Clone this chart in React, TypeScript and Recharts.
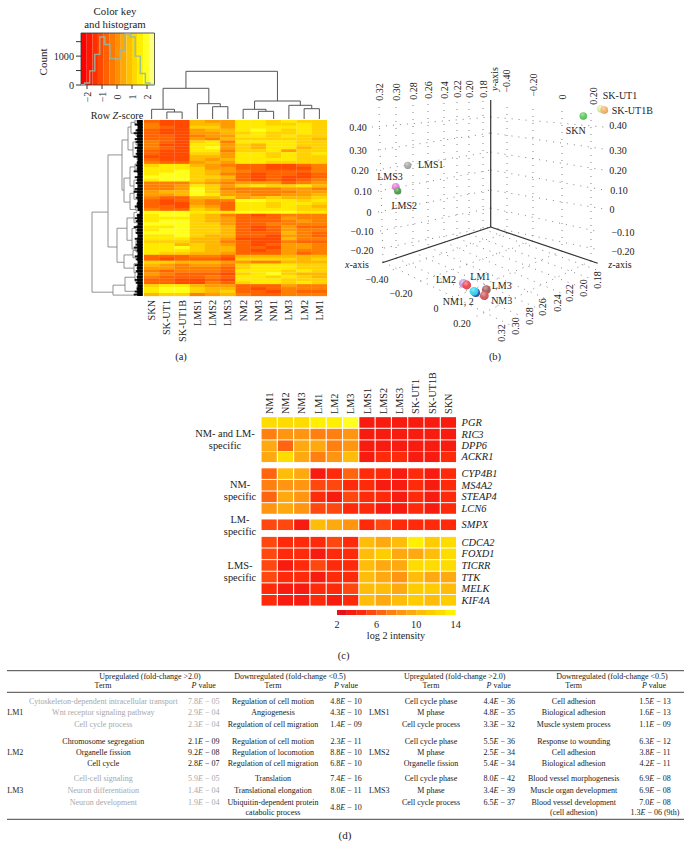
import { ComposedChart, ScatterChart, Scatter, Line, XAxis, YAxis, ReferenceArea, ReferenceLine } from 'recharts'

const SERIF = '"Liberation Serif", serif'

// (a) colour key histogram
const keyColors = ['#ff0000', '#ff1800', '#ff3000', '#ff4800', '#ff6000', '#ff7800', '#ff9000', '#ffa800', '#ffc000', '#ffd800', '#fff000', '#ffff20', '#ffff80']
const keyEdges = [-2.4, -2.02, -1.64, -1.27, -0.89, -0.51, -0.13, 0.25, 0.62, 1.0, 1.38, 1.76, 2.13, 2.5]
const histBins = [-2.4, -2.16, -1.82, -1.48, -1.15, -0.81, -0.47, -0.13, 0.2, 0.54, 0.88, 1.21, 1.55, 1.89, 2.2, 2.5]
const histCounts = [10, 70, 490, 1060, 1660, 1400, 920, 900, 1200, 1770, 1660, 1000, 400, 70, 20, 20]

// (a) heatmap, one digit per cell, 0 = deep orange-red ... 7 = pale yellow
const heatPalette = ['#ff4a00', '#ff6400', '#ff8000', '#ff9c00', '#ffb800', '#ffd200', '#ffea00', '#ffff18']
const heatColumns = ['SKN', 'SK-UT1', 'SK-UT1B', 'LMS1', 'LMS2', 'LMS3', 'NM2', 'NM3', 'NM1', 'LM3', 'LM2', 'LM1']
const heatRows = [
  '100433665655', '200443665565', '210553666665', '100344676565', '100334565565',
  '110233665655', '110324555554', '210562666655', '200663546655', '210673546645',
  '100662556355', '100553665656', '000443665655', '100434666655', '211343665555',
  '566432110012', '666533110002', '667543211112', '677542101101', '777554101001',
  '677543101012', '222432333123', '223653565564', '223752222332', '344753222233',
  '334763322334', '211445345445', '101322776656', '100321665665', '110431665654',
  '211541666655', '777666777766', '677542101222', '666543111322', '677543111232',
  '777553112222', '667554101311', '677554101322', '777554111421', '667544110321',
  '666443000422', '555442100211', '664543101332', '667544110332', '666544101322',
  '655443111312', '111221444444', '101110555545', '554443322444', '432332566655',
  '332221566655', '212221666565', '321110567544', '211121665654', '110010666555',
  '110021566565', '566433111322', '677544101222', '677545110211', '455234211222',
]

// dendrograms: [merge height, child a, child b, height of a, height of b]
const topBrackets = [
  [8, 1.5, 2.5, 1, 1], [10.7, 0.5, 2, 1, 8], [13.3, 4.5, 5.5, 1, 1], [16.3, 3.5, 5, 1, 13.3],
  [31.7, 1.25, 4.25, 10.7, 16.3], [8.7, 7.5, 8.5, 1, 1], [10.7, 6.5, 8, 1, 8.7], [11.3, 10.5, 11.5, 1, 1],
  [14.7, 9.5, 11, 1, 11.3], [19, 7.25, 10.25, 10.7, 14.7], [48.7, 2.75, 8.75, 31.7, 19],
]
const leftBrackets = [
  [52, 31.4, 58.7, 36, 31], [36, 11.9, 43.3, 22, 27], [22, 6.8, 23.9, 16, 20], [16, 2.4, 10.2, 13, 11],
  [20, 19.8, 28, 14, 14], [27, 36.9, 48.5, 17, 20], [17, 33.4, 41, 10, 12], [20, 46, 50.5, 11, 10],
  [31, 56.3, 59.7, 19, 8], [19, 53.6, 58.4, 9, 7], [13, 0.8, 4.5, 9, 8], [11, 7.5, 12.5, 8, 7],
  [9, 0, 1.8, 6, 6], [8, 3.5, 5.5, 6, 6], [8, 6.5, 8.5, 6, 6], [7, 11.5, 13.5, 5, 5],
  [14, 16, 22.5, 9, 10], [14, 25, 30.5, 10, 8], [9, 15, 17, 6, 6], [10, 20.5, 24, 7, 7], [10, 24, 27, 7, 6],
  [8, 29, 31, 6, 6], [10, 31.5, 35, 7, 7], [12, 37, 44, 8, 8], [8, 36, 38.5, 6, 6], [8, 41, 45, 6, 5],
  [11, 44.5, 47, 7, 7], [10, 49, 52, 7, 8], [9, 52, 55, 6, 7], [7, 56.5, 59.5, 5, 5],
]
const leafDepths = [
  6, 8, 5, 7, 9, 6, 8, 7, 5, 8, 6, 7, 9, 5, 6, 7, 6, 9, 5, 8,
  6, 7, 5, 8, 9, 6, 7, 5, 6, 8, 5, 3, 6, 8, 7, 5, 9, 6, 7, 5,
  8, 6, 7, 9, 6, 5, 8, 7, 5, 8, 6, 7, 5, 6, 8, 7, 5, 6, 8, 9,
]

// (b) projected positions
const axes3d = [
  [490.7, 227, 490.7, 100], [490.7, 227, 382.3, 262.7], [490.7, 227, 597.7, 263.3],
]
const grid3d = [
  [372, 127, 490.7, 117], [378, 150, 490.7, 133], [376, 170, 490.7, 152], [378, 191, 490.7, 170], [378, 212, 490.7, 190], [380, 231, 490.7, 208], [384, 248, 490.7, 227],
  [490.7, 117, 604, 127], [490.7, 133, 604, 149], [490.7, 152, 604, 170], [490.7, 170, 604, 190], [490.7, 190, 604, 209], [490.7, 208, 600, 232], [490.7, 227, 600, 250],
  [379, 107, 383, 262], [396, 107, 396, 258], [413, 105, 413, 252], [428, 104, 428, 247], [444, 103, 444, 242], [457, 102, 457, 238], [469, 102, 469, 234], [483, 101, 483, 229],
  [507, 107, 507, 233], [533, 109, 533, 241], [562, 111, 562, 251], [591, 113, 591, 261],
  [507, 233, 392, 270], [533, 241, 415, 283], [562, 251, 448, 300], [591, 261, 475, 317],
  [383, 262, 510, 325], [396, 258, 523, 317], [413, 252, 537, 308], [428, 247, 549, 300], [444, 242, 563, 294], [457, 238, 575, 285], [469, 234, 589, 278], [483, 229, 597, 270],
]
const tickLabels3d: [string, number, number, number][] = [
  ['0.40', 358, 127, 0], ['0.30', 358, 150, 0], ['0.20', 360, 170, 0], ['0.10', 363, 191, 0], ['0', 369, 212, 0], ['−0.10', 362, 231, 0], ['−0.20', 362, 250, 0],
  ['0.40', 618, 125, 0], ['0.30', 618, 150, 0], ['0.20', 618, 170, 0], ['0.10', 619, 190, 0], ['0', 612, 209, 0], ['−0.10', 623, 232, 0], ['−0.20', 623, 251, 0],
  ['0.32', 379, 92, -90], ['0.30', 396, 92, -90], ['0.28', 413, 91, -90], ['0.26', 428, 90, -90], ['0.24', 444, 90, -90], ['0.22', 457, 89, -90], ['0.20', 469, 89, -90], ['0.18', 483, 89, -90],
  ['−0.40', 506, 81, -90], ['−0.20', 533, 85, -90], ['0', 562, 97, -90], ['0.20', 593, 96, -90],
  ['−0.40', 377, 279, 0], ['−0.20', 401, 293, 0], ['0', 436, 308, 0], ['0.20', 462, 323, 0],
  ['0.32', 501, 333, -90], ['0.30', 515, 326, -90], ['0.28', 529, 316, -90], ['0.26', 542, 307, -90], ['0.24', 557, 303, -90], ['0.22', 569, 293, -90], ['0.20', 583, 288, -90], ['0.18', 597, 280, -90],
]
const samples3d: [number, number, string, number][] = [
  [407.7, 165.3, '#a9a9a9', 3.6], [395.7, 186.7, '#e680dc', 3.8], [397.7, 191, '#4f9d4f', 3.6],
  [583.3, 116, '#5ecb5e', 3.8], [600.7, 108.7, '#dcf0a8', 3.8], [604.3, 110, '#f7b26a', 3.8],
  [463.3, 283.3, '#c79be8', 4.4], [466.7, 285, '#f0484f', 4.4], [475.7, 292.7, '#2b4fb8', 4.4], [474, 291.3, '#35d5ee', 4.4],
  [486.3, 289.7, '#a85c5c', 4.4], [484.3, 295.7, '#cf5a5f', 4.4],
]
const sampleLabels3d: [string, number, number, number][] = [
  ['LMS1', 430.7, 164, 0], ['LMS3', 390, 176, 0], ['LMS2', 404.3, 205, 0], ['SKN', 575.7, 130, 0], ['SK-UT1', 620, 95, 0], ['SK-UT1B', 632.3, 110, 0],
  ['LM2', 446, 279, 0], ['LM1', 480.3, 276, 0], ['LM3', 501.7, 285, 0], ['NM1, 2', 458.3, 301.7, 0], ['NM3', 501.7, 300.7, 0],
]

// (c) expression heatmap, log2 intensity
const intensityPalette = ['#e8101c', '#f81c10', '#ff2a0a', '#ff4810', '#ff6510', '#ff7f10', '#ff9510', '#ffa910', '#ffbc08', '#ffcc00', '#ffdc00', '#fff000', '#ffff22']
const geneColumns = ['NM1', 'NM2', 'NM3', 'LM1', 'LM2', 'LM3', 'LMS1', 'LMS2', 'LMS3', 'SK-UT1', 'SK-UT1B', 'SKN']
const geneNames = ['PGR', 'RIC3', 'DPP6', 'ACKR1', 'CYP4B1', 'MS4A2', 'STEAP4', 'LCN6', 'SMPX', 'CDCA2', 'FOXD1', 'TICRR', 'TTK', 'MELK', 'KIF4A']
const genePositions = [0, 1, 2, 2.95, 4.4, 5.4, 6.4, 7.4, 8.8, 10.3, 11.3, 12.3, 13.3, 14.3, 15.3]
const geneValues = [
  [11.5, 12, 11.5, 12.5, 12.5, 14, 3, 3, 3, 3, 3, 3],
  [7, 8, 7.5, 7, 6.5, 8, 3, 3, 3, 3, 3, 3],
  [9, 6, 9, 8.5, 7, 7.5, 3, 3, 3, 3, 3, 3],
  [9, 11.5, 9, 7, 8, 9.5, 3, 4, 4, 3, 3, 4],
  [5.5, 9.5, 8.5, 3, 4, 6, 4, 3.5, 3, 3.5, 3, 3.5],
  [7, 8, 7.5, 5, 5, 4, 4, 3, 3, 4, 3, 3.5],
  [6, 9, 8, 4, 3, 5, 4, 3.5, 3, 4, 3, 3.5],
  [8, 8.5, 8, 5, 5, 4, 4, 3, 3, 4, 3, 3.5],
  [5, 5, 3, 10, 9, 8, 4, 4.5, 3.5, 4, 4, 3.5],
  [5, 4, 4, 4, 4.5, 3.5, 10, 9, 10, 12.5, 11, 11.5],
  [4.5, 4, 4, 3, 4, 3.5, 9.5, 11, 9, 9, 9.5, 12],
  [4.5, 3, 4, 4.5, 4, 3.5, 9.5, 9, 9, 11.5, 12, 12],
  [4.5, 3.5, 4, 3, 4, 3.5, 10, 9, 8, 9.5, 8.5, 9],
  [4, 3, 3, 4, 3.5, 4.5, 10, 10, 9, 11, 10.5, 10],
  [4, 3, 3, 4, 3, 3.5, 10, 9, 9.5, 11, 9.5, 11],
]
const intensitySteps = [2, 3, 4, 5, 6, 7, 8, 9, 10, 11, 12, 13, 14]

// (d) table
const tableGroupsLeft = [
  { name: 'LM1', muted: true, rows: [
    ['Cytoskeleton-dependent intracellular transport', '7.8E − 05', 'Regulation of cell motion', '4.8E − 10'],
    ['Wnt receptor signaling pathway', '2.9E − 04', 'Angiogenesis', '4.3E − 10'],
    ['Cell cycle process', '2.3E − 04', 'Regulation of cell migration', '1.4E − 09'],
  ] },
  { name: 'LM2', muted: false, rows: [
    ['Chromosome segregation', '2.1E − 09', 'Regulation of cell motion', '2.3E − 11'],
    ['Organelle fission', '9.2E − 08', 'Regulation of locomotion', '8.8E − 10'],
    ['Cell cycle', '2.8E − 07', 'Regulation of cell migration', '6.8E − 10'],
  ] },
  { name: 'LM3', muted: true, rows: [
    ['Cell-cell signaling', '5.9E − 05', 'Translation', '7.4E − 16'],
    ['Neuron differentiation', '1.4E − 04', 'Translational elongation', '8.0E − 11'],
    ['Neuron development', '1.9E − 04', 'Ubiquitin-dependent protein', ''],
  ] },
]
const tableGroupsRight = [
  { name: 'LMS1', muted: false, rows: [
    ['Cell cycle phase', '4.4E − 36', 'Cell adhesion', '1.5E − 13'],
    ['M phase', '4.8E − 35', 'Biological adhesion', '1.6E − 13'],
    ['Cell cycle process', '3.3E − 32', 'Muscle system process', '1.1E − 09'],
  ] },
  { name: 'LMS2', muted: false, rows: [
    ['Cell cycle phase', '5.5E − 36', 'Response to wounding', '6.3E − 12'],
    ['M phase', '2.5E − 34', 'Cell adhesion', '3.8E − 11'],
    ['Organelle fission', '5.4E − 34', 'Biological adhesion', '4.2E − 11'],
  ] },
  { name: 'LMS3', muted: false, rows: [
    ['Cell cycle phase', '8.0E − 42', 'Blood vessel morphogenesis', '6.9E − 08'],
    ['M phase', '3.4E − 39', 'Muscle organ development', '6.9E − 08'],
    ['Cell cycle process', '6.5E − 37', 'Blood vessel development', '7.0E − 08'],
  ] },
]
const tableRowY = [[704, 715.4, 727], [744, 755, 765.7], [781.4, 793, 804.7]]

const histData = histBins.map((x, i) => ({ x, count: histCounts[i] }))
const heatCells = heatRows.flatMap((row, r) => row.split('').map((d, c) => ({ x: c + 0.5, y: r + 0.5, level: Number(d) })))
const geneCells = geneValues.flatMap((row, r) => row.map((v, c) => ({ x: c + 0.5, y: genePositions[r], v })))
const bracketLines = (list: number[][]) =>
  list.flatMap(([h, a, b, ha, hb]) => [[a, h, b, h], [a, h, a, ha], [b, h, b, hb]])

const rowTick = (labels: string[], baseline: number, anchor: string) => (p: any) => (
  <text
    transform={`rotate(-90 ${p.x} ${baseline})`}
    x={p.x}
    y={baseline}
    dy="0.35em"
    textAnchor={anchor}
    fontSize={10.2}
    fontFamily={SERIF}
    fill="#222"
  >
    {labels[p.index]}
  </text>
)

function ColorKey() {
  return (
    <ComposedChart width={175} height={120} data={histData} margin={{ top: 33, right: 20.5, bottom: 10, left: 41 }} style={{ position: 'absolute', left: 0, top: 0 }}>
      <XAxis
        type="number"
        dataKey="x"
        domain={[-2.4, 2.5]}
        ticks={[-2, -1, 0, 1, 2]}
        interval={0}
        height={25}
        axisLine={false}
        tickSize={4}
        stroke="#333"
        tick={(p: any) => (
          <text transform={`rotate(-90 ${p.x} 97)`} x={p.x} y={97} dy="0.35em" textAnchor="middle" fontSize={10} fontFamily={SERIF} fill="#222">
            {String(p.payload.value).replace('-', '−')}
          </text>
        )}
      />
      <YAxis
        type="number"
        domain={[0, 1800]}
        ticks={[0, 500, 1000, 1500]}
        interval={0}
        width={40}
        axisLine={false}
        tickSize={5}
        stroke="#333"
        tickFormatter={(v: number) => (v % 1000 === 0 ? String(v) : '')}
        tick={{ fontSize: 10.2, fontFamily: SERIF, fill: '#222' }}
      />
      {keyColors.map((c, i) => (
        <ReferenceArea key={i} x1={keyEdges[i]} x2={keyEdges[i + 1]} fill={c} fillOpacity={1} stroke="none" ifOverflow="visible" />
      ))}
      <ReferenceArea x1={-2.4} x2={2.5} fill="none" stroke="#333" strokeWidth={0.8} ifOverflow="visible" />
      <Line dataKey="count" type="stepAfter" stroke="#90b8a8" strokeOpacity={0.9} strokeWidth={1.4} dot={false} isAnimationActive={false} />
    </ComposedChart>
  )
}

function HeatmapA() {
  return (
    <ScatterChart width={183} height={226} margin={{ top: 0, right: 0, bottom: 0, left: 0 }} style={{ position: 'absolute', left: 144, top: 120 }}>
      <XAxis
        type="number"
        dataKey="x"
        domain={[0, 12]}
        ticks={heatColumns.map((_, i) => i + 0.5)}
        interval={0}
        height={50}
        axisLine={false}
        tickLine={false}
        tick={rowTick(heatColumns, 180, 'end')}
      />
      <YAxis type="number" dataKey="y" domain={[0, 60]} reversed hide />
      <Scatter
        data={heatCells}
        isAnimationActive={false}
        shape={(p: any) => <rect x={p.cx - 7.7} y={p.cy - 1.6} width={15.4} height={3.2} fill={heatPalette[p.payload.level]} />}
      />
    </ScatterChart>
  )
}

function TopDendrogram() {
  const lines = bracketLines(topBrackets)
  return (
    <ScatterChart width={183} height={50} margin={{ top: 0, right: 0, bottom: 0, left: 0 }} style={{ position: 'absolute', left: 144, top: 70 }}>
      <XAxis type="number" dataKey="x" domain={[0, 12]} hide />
      <YAxis type="number" dataKey="y" domain={[0, 50]} hide />
      <Scatter data={lines.map(([x, y]) => ({ x, y }))} isAnimationActive={false} shape={() => <g />} />
      {lines.map(([x1, y1, x2, y2], i) => (
        <ReferenceLine key={i} segment={[{ x: x1, y: y1 }, { x: x2, y: y2 }]} stroke="#555" strokeWidth={1} ifOverflow="visible" />
      ))}
    </ScatterChart>
  )
}

function LeftDendrogram() {
  const lines = bracketLines(leftBrackets)
  return (
    <ScatterChart width={56} height={176} margin={{ top: 0, right: 0, bottom: 0, left: 0 }} style={{ position: 'absolute', left: 88, top: 120 }}>
      <XAxis type="number" dataKey="x" domain={[0, 56]} reversed hide />
      <YAxis type="number" dataKey="y" domain={[0, 60]} reversed hide />
      <Scatter data={lines.map(([y, x]) => ({ x, y }))} isAnimationActive={false} shape={() => <g />} />
      {lines.map(([y1, h1, y2, h2], i) => (
        <ReferenceLine key={i} segment={[{ x: h1, y: y1 }, { x: h2, y: y2 }]} stroke="#777" strokeWidth={0.8} ifOverflow="visible" />
      ))}
      {leafDepths.map((d, r) => (
        <ReferenceLine key={r} segment={[{ x: 1.3, y: r + 0.5 }, { x: 1.3 + d, y: r + 0.5 }]} stroke="#111" strokeWidth={1.9} ifOverflow="visible" />
      ))}
      {leafDepths.map((d, r) => (
        <ReferenceLine key={`core-${r}`} segment={[{ x: 1.3, y: r + 0.5 }, { x: 1.3 + Math.min(d, 5.5), y: r + 0.5 }]} stroke="#000" strokeWidth={3.2} ifOverflow="visible" />
      ))}
    </ScatterChart>
  )
}

function Plot3D() {
  const textShape = (size: number) => (p: any) => (
    <text
      transform={`rotate(${p.payload.rot} ${p.cx} ${p.cy})`}
      x={p.cx}
      y={p.cy}
      dy="0.35em"
      textAnchor="middle"
      fontSize={size}
      fontFamily={SERIF}
      fill="#222"
    >
      {p.payload.label}
    </text>
  )
  return (
    <ScatterChart width={346} height={360} margin={{ top: 0, right: 0, bottom: 0, left: 0 }} style={{ position: 'absolute', left: 345, top: 0 }}>
      <XAxis type="number" dataKey="x" domain={[345, 691]} hide />
      <YAxis type="number" dataKey="y" domain={[0, 360]} reversed hide />
      {grid3d.map(([x1, y1, x2, y2], i) => (
        <ReferenceLine key={i} segment={[{ x: x1, y: y1 }, { x: x2, y: y2 }]} stroke="#777" strokeWidth={0.9} strokeDasharray="1 6" ifOverflow="visible" />
      ))}
      {axes3d.map(([x1, y1, x2, y2], i) => (
        <ReferenceLine key={i} segment={[{ x: x1, y: y1 }, { x: x2, y: y2 }]} stroke="#333" strokeWidth={1.2} ifOverflow="visible" />
      ))}
      <Scatter
        data={tickLabels3d.map(([label, x, y, rot]) => ({ label, x, y, rot }))}
        isAnimationActive={false}
        shape={textShape(10)}
      />
      <Scatter
        data={sampleLabels3d.map(([label, x, y, rot]) => ({ label, x, y, rot }))}
        isAnimationActive={false}
        shape={textShape(10)}
      />
      <Scatter
        data={samples3d.map(([x, y, color, r]) => ({ x, y, color, r }))}
        isAnimationActive={false}
        shape={(p: any) => (
          <g>
            <circle cx={p.cx} cy={p.cy} r={p.payload.r} fill={p.payload.color} />
            <circle cx={p.cx} cy={p.cy} r={p.payload.r} fill="url(#ballSheen)" />
          </g>
        )}
      />
    </ScatterChart>
  )
}

function HeatmapC() {
  return (
    <ScatterChart width={266} height={239} margin={{ top: 0, right: 0, bottom: 0, left: 0 }} style={{ position: 'absolute', left: 261, top: 367 }}>
      <XAxis
        type="number"
        dataKey="x"
        orientation="top"
        domain={[0, 12]}
        ticks={geneColumns.map((_, i) => i + 0.5)}
        interval={0}
        height={50}
        axisLine={false}
        tickLine={false}
        tick={rowTick(geneColumns, 47, 'start')}
      />
      <YAxis
        type="number"
        dataKey="y"
        orientation="right"
        domain={[-0.47, 15.79]}
        reversed
        ticks={genePositions}
        interval={0}
        width={70.4}
        axisLine={false}
        tickLine={false}
        tick={(p: any) => (
          <text x={p.x - 3} y={p.y} dy="0.35em" fontSize={10.4} fontStyle="italic" fontFamily={SERIF} fill="#222">
            {geneNames[genePositions.indexOf(p.payload.value)]}
          </text>
        )}
      />
      <Scatter
        data={geneCells}
        isAnimationActive={false}
        shape={(p: any) => (
          <rect
            x={p.cx - 7.6}
            y={p.cy - 5.3}
            width={15.2}
            height={10.6}
            fill={intensityPalette[Math.round(p.payload.v) - 2]}
          />
        )}
      />
    </ScatterChart>
  )
}

function IntensityKey() {
  return (
    <ComposedChart width={138.7} height={24} data={intensitySteps.map((x) => ({ x, v: 0 }))} margin={{ top: 0, right: 10, bottom: 0, left: 10 }} style={{ position: 'absolute', left: 327.3, top: 610 }}>
      <XAxis
        type="number"
        dataKey="x"
        domain={[2, 14]}
        ticks={[2, 6, 10, 14]}
        interval={0}
        height={19}
        axisLine={false}
        tickLine={false}
        tick={(p: any) => (
          <text x={p.x} y={18} textAnchor="middle" fontSize={10.2} fontFamily={SERIF} fill="#222">
            {p.payload.value}
          </text>
        )}
      />
      <YAxis type="number" domain={[0, 1]} hide />
      {intensityPalette.slice(0, -1).map((c, i) => (
        <ReferenceArea key={i} x1={intensitySteps[i]} x2={intensitySteps[i + 1]} y1={0} y2={1} fill={c} fillOpacity={1} stroke="none" ifOverflow="visible" />
      ))}
      <Line dataKey="v" stroke="none" dot={false} isAnimationActive={false} />
    </ComposedChart>
  )
}

function PValue({ x, y, value, fill }: { x: number; y: number; value: string; fill: string }) {
  const [a, b] = value.split('E')
  return (
    <text x={x} y={y} textAnchor="middle" fill={fill}>
      {a}
      <tspan fontStyle="italic">E</tspan>
      {b}
    </text>
  )
}

function TableBlock({ groups, labelX, cols }: { groups: typeof tableGroupsLeft; labelX: number; cols: number[] }) {
  return (
    <>
      {groups.map((g, gi) => {
        const fill = g.muted ? '#a8a8a8' : '#222'
        return (
          <g key={g.name}>
            <text x={labelX} y={tableRowY[gi][1]} fill="#222">{g.name}</text>
            {g.rows.map((row, ri) => (
              <g key={ri}>
                <text x={cols[0]} y={tableRowY[gi][ri]} textAnchor="middle" fill={fill}>{row[0]}</text>
                <PValue x={cols[1]} y={tableRowY[gi][ri]} value={row[1]} fill={fill} />
                <text x={cols[2]} y={tableRowY[gi][ri]} textAnchor="middle" fill="#222">{row[2]}</text>
                {row[3] && <PValue x={cols[3]} y={tableRowY[gi][ri]} value={row[3]} fill="#222" />}
              </g>
            ))}
          </g>
        )
      })}
    </>
  )
}

function Overlay() {
  const centered = (t: string, x: number, y: number, size = 10.4) => (
    <text x={x} y={y} textAnchor="middle" fontSize={size} fill="#222">{t}</text>
  )
  return (
    <svg width={691} height={857} style={{ position: 'absolute', left: 0, top: 0 }} fontFamily={SERIF}>
      <defs>
        <radialGradient id="ballSheen" cx="40%" cy="30%" r="75%">
          <stop offset="0%" stopColor="#fff" stopOpacity={0.45} />
          <stop offset="55%" stopColor="#fff" stopOpacity={0} />
          <stop offset="100%" stopColor="#000" stopOpacity={0.25} />
        </radialGradient>
      </defs>
      {centered('Color key', 115, 15, 10.8)}
      {centered('and histogram', 115, 28, 10.8)}
      <text transform="rotate(-90 43 62)" x={43} y={62} dy="0.35em" textAnchor="middle" fontSize={11} fill="#222">Count</text>
      <text x={117} y={119} textAnchor="middle" fontSize={10.2} fill="#222">
        Row <tspan fontStyle="italic">Z</tspan>-score
      </text>
      {centered('(a)', 181, 360, 10.5)}
      {centered('(b)', 495, 360, 10.5)}
      {centered('(c)', 343.7, 659, 10.5)}
      {centered('(d)', 345, 839, 11)}

      <text transform="rotate(-90 494 79)" x={494} y={79} dy="0.35em" textAnchor="middle" fontSize={10} fill="#222"><tspan fontStyle="italic">y</tspan>-axis</text>
      <text x={357} y={268} textAnchor="middle" fontSize={10} fill="#222"><tspan fontStyle="italic">x</tspan>-axis</text>
      <text x={620} y={268} textAnchor="middle" fontSize={10} fill="#222"><tspan fontStyle="italic">z</tspan>-axis</text>

      {centered('NM- and LM-', 225, 436.5)}
      {centered('specific', 225, 448.5)}
      {centered('NM-', 240, 487.5)}
      {centered('specific', 240, 500)}
      {centered('LM-', 240, 522.5)}
      {centered('specific', 240, 534.5)}
      {centered('LMS-', 240, 568.5)}
      {centered('specific', 240, 580.5)}
      {centered('log 2 intensity', 396, 639, 10.2)}

      <line x1={7} x2={684} y1={670.7} y2={670.7} stroke="#444" strokeWidth={1} />
      <line x1={7} x2={684} y1={692.3} y2={692.3} stroke="#444" strokeWidth={1} />
      <line x1={7} x2={684} y1={819.3} y2={819.3} stroke="#444" strokeWidth={1} />

      <g fontSize={8}>
        {centered('Upregulated (fold-change >2.0)', 150, 679, 8)}
        {centered('Downregulated (fold-change <0.5)', 290, 679, 8)}
        {centered('Upregulated (fold-change >2.0)', 454.7, 679, 8)}
        {centered('Downregulated (fold-change <0.5)', 612, 679, 8)}
        {centered('Term', 103, 688.4, 8)}
        {centered('Term', 273, 688.4, 8)}
        {centered('Term', 431, 688.4, 8)}
        {centered('Term', 573.7, 688.4, 8)}
        {[203.7, 346, 498.7, 654].map((x) => (
          <text key={x} x={x} y={688.4} textAnchor="middle" fill="#222"><tspan fontStyle="italic">P</tspan> value</text>
        ))}
        <TableBlock groups={tableGroupsLeft} labelX={7.3} cols={[103.3, 203.7, 273, 346]} />
        <TableBlock groups={tableGroupsRight} labelX={369} cols={[431, 499.3, 573.7, 655]} />
        {centered('catabolic process', 273, 815.4, 8)}
        <PValue x={346} y={809.7} value="4.8E − 10" fill="#222" />
        {centered('(cell adhesion)', 573.7, 815.4, 8)}
        <PValue x={655} y={815.4} value="1.3E − 06 (9th)" fill="#222" />
      </g>
    </svg>
  )
}

export default function App() {
  return (
    <div style={{ position: 'absolute', left: 0, top: 0, width: 691, height: 857, background: '#fff' }}>
      <Overlay />
      <ColorKey />
      <TopDendrogram />
      <LeftDendrogram />
      <HeatmapA />
      <Plot3D />
      <HeatmapC />
      <IntensityKey />
    </div>
  )
}
